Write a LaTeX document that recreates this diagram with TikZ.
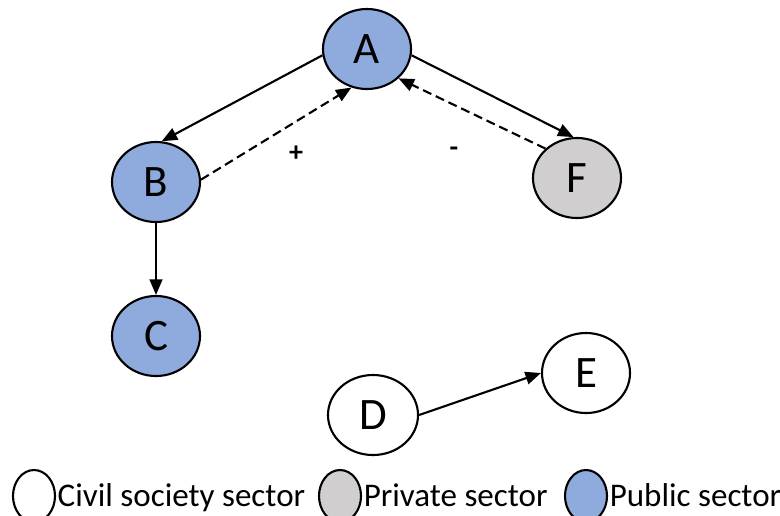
\documentclass[tikz,border=0pt]{standalone}
\usepackage{fontspec}
\setmainfont{Carlito}
\usetikzlibrary{shapes.geometric}
\usetikzlibrary{arrows.meta}
\usetikzlibrary{positioning}
\definecolor{publicblue}{HTML}{8FAADC}
\definecolor{privategray}{HTML}{D0CECE}
\newcommand*{\legendy}{496}

\begin{document}
\begin{tikzpicture}[x=0.025cm, y=-0.025cm,
    actor/.style={ellipse, draw, line width=1.5pt, minimum width=2.2cm, minimum height=2cm, inner sep=0pt, font=\fontsize{32}{32}\selectfont},
    keymark/.style={ellipse, draw, line width=1.5pt, minimum width=1.05cm, minimum height=1.3cm, inner sep=0pt},
    keytext/.style={anchor=base west, inner sep=0pt, font=\fontsize{23.5}{23.5}\selectfont},
    sign/.style={font=\fontsize{20}{20}\selectfont\bfseries},
    tie/.style={-{Triangle[length=11pt, width=9pt]}, line width=1.5pt},
    feedback/.style={tie, dash pattern=on 6.5pt off 3.5pt}]
    \useasboundingbox (0,0) rectangle (780,515);
    % actors
    \node[actor, fill=publicblue] (A) at (367,49) {A};
    \node[actor, fill=publicblue] (B) at (156,182) {B};
    \node[actor, fill=privategray] (F) at (577,178) {F};
    \node[actor, fill=publicblue] (C) at (156,336) {C};
    \node[actor, fill=white] (E) at (586,373) {E};
    \node[actor, fill=white, minimum width=2.25cm] (D) at (373,415) {D};
    % ties
    \draw[tie] (A.188) -- (B.82);
    \draw[tie] (A.-8) -- (F.95);
    \draw[tie] (B) -- (C);
    \draw[tie] (D.east) -- (E.west);
    % feedback
    \draw[feedback] (B.3) -- (A.248);
    \draw[feedback] (F.137) -- (A.-43);
    \node[sign] (plus) at (296,154) {+};
    \node[sign] (minus) at (454,152) {-};
    % legend
    \coordinate (keyline) at (0,506);
    \node[keymark, fill=white] (civil) at (34,\legendy) {};
    \node[keytext] (civiltext) at ([xshift=1pt]civil.east |- keyline) {Civil society sector};
    \node[keymark, fill=privategray] (private) at (340,\legendy) {};
    \node[keytext] (privatetext) at ([xshift=1pt]private.east |- keyline) {Private sector};
    \node[keymark, fill=publicblue] (public) at (586,\legendy) {};
    \node[keytext] (publictext) at ([xshift=1pt]public.east |- keyline) {Public sector};
\end{tikzpicture}
\end{document}
